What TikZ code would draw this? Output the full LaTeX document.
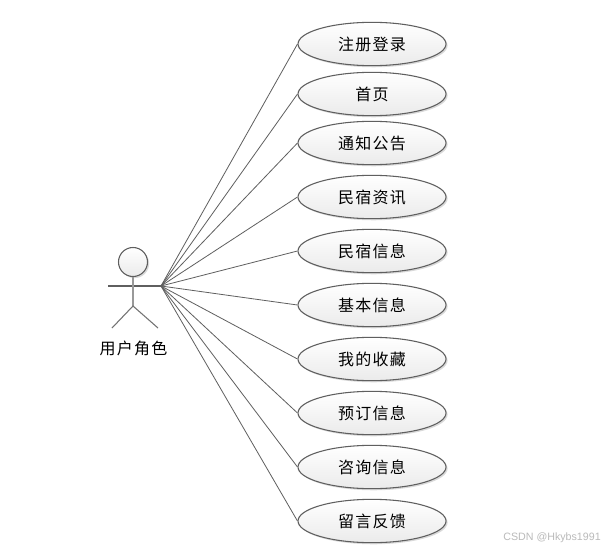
\documentclass[tikz,border=0pt]{standalone}
\usepackage{fontspec}
\setmainfont{Liberation Sans}
\newfontfamily\cjk[LetterSpace=8]{Noto Sans CJK SC}
\usetikzlibrary{shapes.geometric,shadows}
\definecolor{linec}{RGB}{95,95,95}
\tikzset{
  x=0.75pt,y=-0.75pt,
  softshadow/.style={drop shadow={shadow xshift=1.2pt,shadow yshift=-1.2pt,fill=black,opacity=0.15}},
  usecase/.style={ellipse,draw=linec,line width=0.8pt,minimum width=111pt,minimum height=32.5pt,inner sep=0pt,
    top color=white,bottom color=black!8,softshadow,font=\cjk\fontsize{12}{14}\selectfont,text=black},
  assoc/.style={draw=linec,line width=0.6pt},
  stick/.style={draw=linec,line width=0.8pt},
  actorlabel/.style={font=\cjk\fontsize{12}{14}\selectfont,text=black,inner sep=0pt},
  mark text/.style={font=\fontsize{8}{10}\selectfont,text=black!27,inner sep=0pt,anchor=east}
}
\begin{document}
\begin{tikzpicture}
\useasboundingbox (0,0) rectangle (609,549);
\fill[white] (0,0) rectangle (609,549);
\coordinate (hub) at (161,286);
\coordinate (armL) at (108,286);
\coordinate (neck) at (133,277);
\coordinate (hip) at (133,306);
\coordinate (footL) at (112,328);
\coordinate (footR) at (158,328);
\node[usecase] (u1) at (372,44) {注册登录};
\node[usecase] (u2) at (372,94) {首页};
\node[usecase] (u3) at (372,143) {通知公告};
\node[usecase] (u4) at (372,197) {民宿资讯};
\node[usecase] (u5) at (372,251) {民宿信息};
\node[usecase] (u6) at (372,305) {基本信息};
\node[usecase] (u7) at (372,359) {我的收藏};
\node[usecase] (u8) at (372,413) {预订信息};
\node[usecase] (u9) at (372,467) {咨询信息};
\node[usecase] (u10) at (372,521) {留言反馈};
\foreach \i in {1,...,10} \draw[assoc] (hub) -- (u\i.west);
\node[circle,draw=linec,line width=0.8pt,minimum size=21.75pt,inner sep=0pt,top color=white,bottom color=black!8,softshadow] (head) at (133,262) {};
\draw[stick] (armL) -- (hub);
\draw[stick,draw=black!40,line width=1.3pt] (neck) -- (hip);
\draw[stick,draw=black!55] (footL) -- (hip) -- (footR);
\node[actorlabel] (actor) at (133.5,348) {用户角色};
\node[mark text] (wm) at (601,538) {CSDN @Hkybs1991};
\end{tikzpicture}
\end{document}
